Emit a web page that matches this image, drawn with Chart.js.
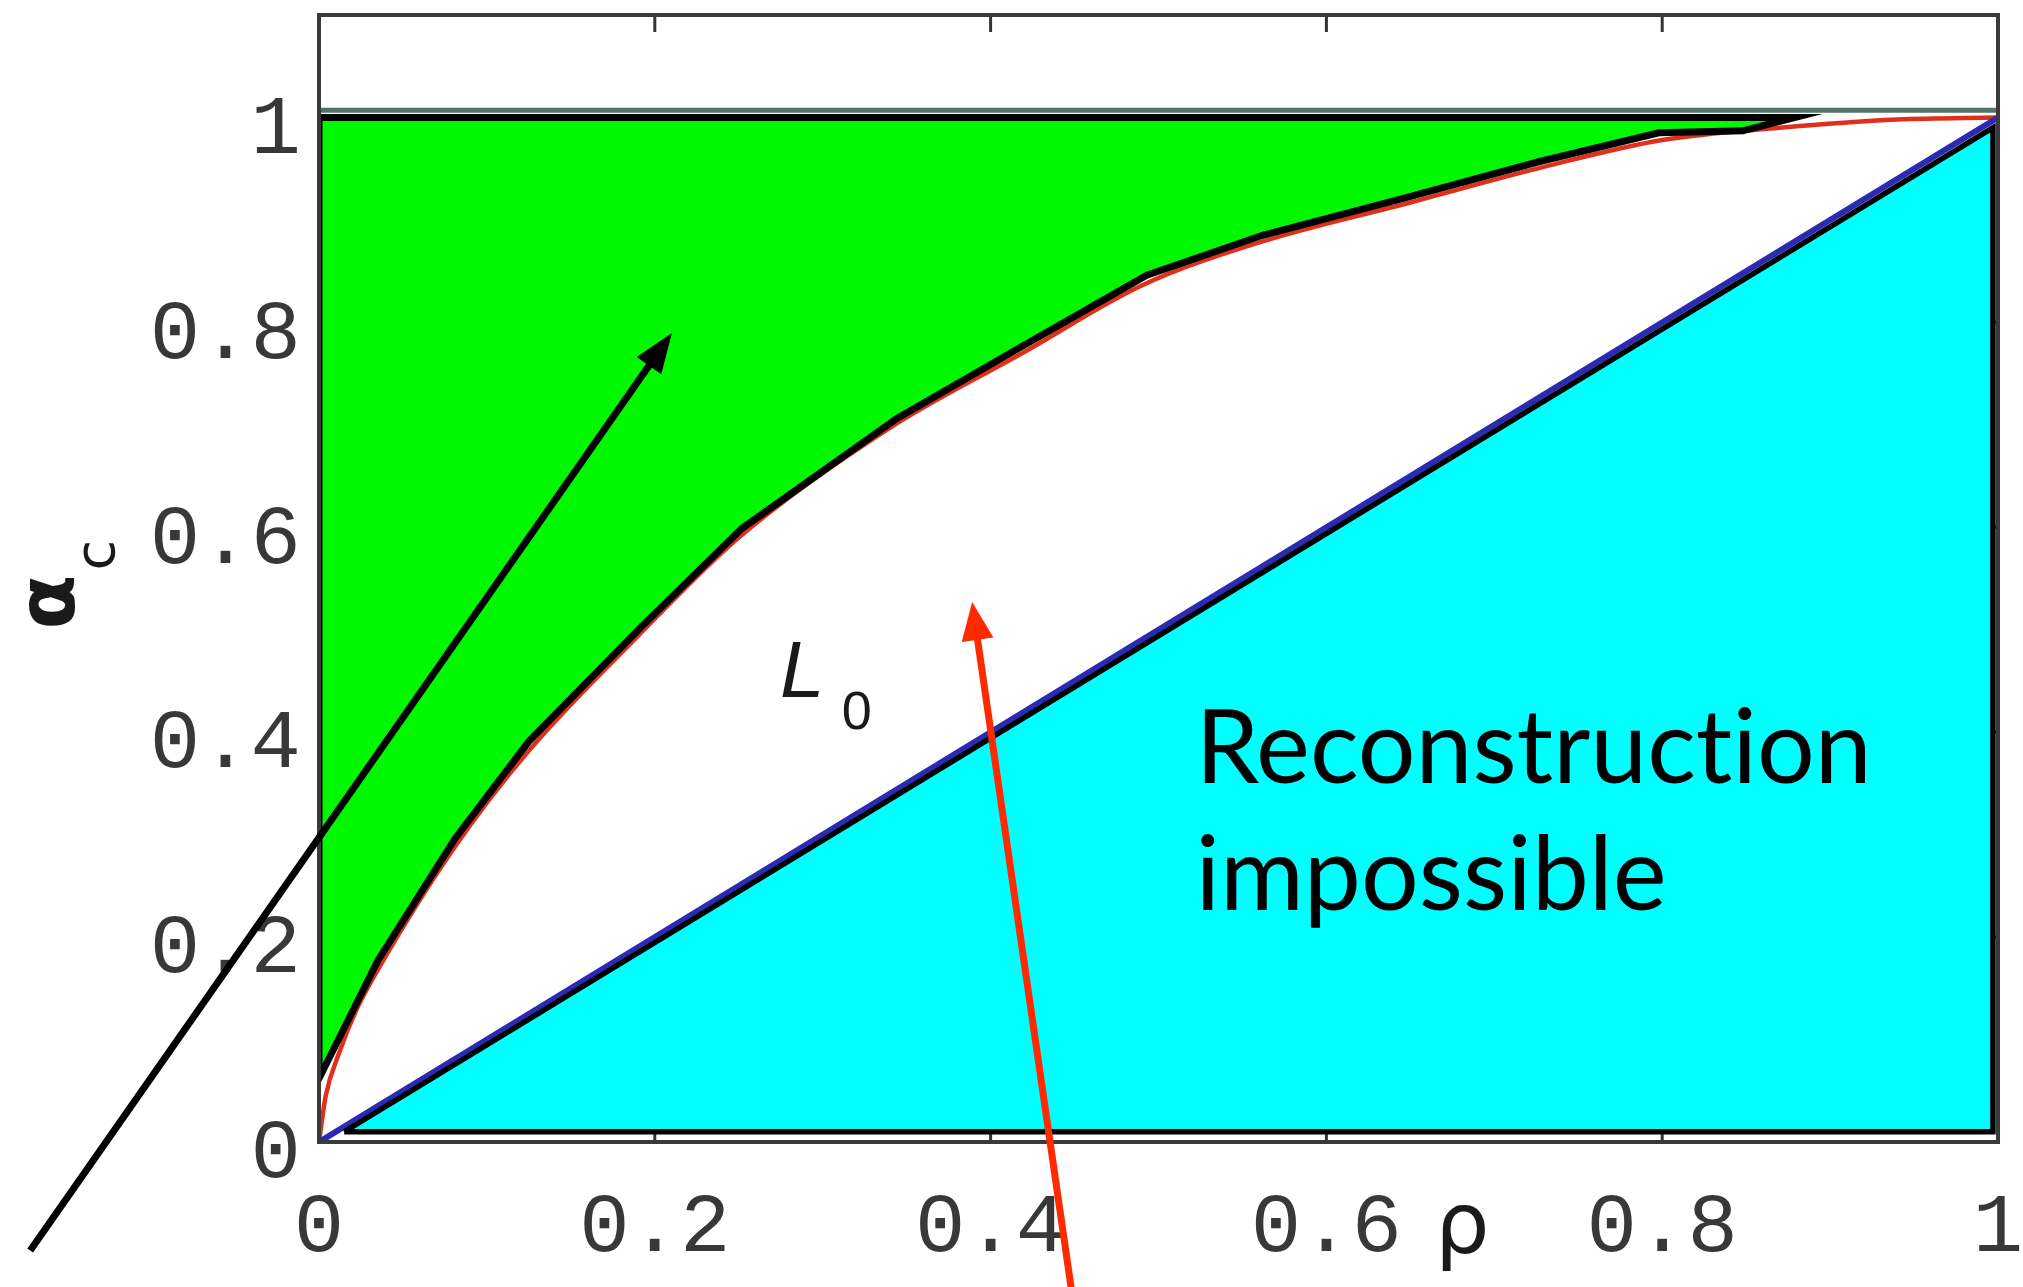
<!DOCTYPE html>
<html>
<head>
<meta charset="utf-8">
<script src="https://cdn.jsdelivr.net/npm/chart.js@4.4.0/dist/chart.umd.min.js"></script>
<style>
html,body{margin:0;padding:0;background:#ffffff;overflow:hidden}
#wrap{width:2023px;height:1287px;position:relative}
</style>
</head>
<body>
<div id="wrap"><canvas id="c" width="2023" height="1287"></canvas></div>
<script>
// ---- axis ticks ----
const xTickValues = [0, 0.2, 0.4, 0.6, 0.8, 1];
const xTickLabels = ['0', '0.2', '0.4', '0.6', '0.8', '1'];
const yTickValues = [0, 0.2, 0.4, 0.6, 0.8, 1];
const yTickLabels = ['0', '0.2', '0.4', '0.6', '0.8', '1'];

// ---- black (empirical) boundary of the green region ----
const blackRho   = [0, 0.035, 0.081, 0.125, 0.192, 0.252, 0.344, 0.417, 0.493, 0.562, 0.648, 0.727, 0.798, 0.848, 0.879];
const blackAlpha = [0.062, 0.177, 0.296, 0.391, 0.503, 0.599, 0.706, 0.775, 0.846, 0.885, 0.922, 0.957, 0.985, 0.987, 1.0];

// ---- red L0 curve ----
const redRho   = [0, 0.004, 0.012, 0.022, 0.035, 0.08, 0.125, 0.19, 0.25, 0.34, 0.42, 0.49, 0.56, 0.65, 0.73, 0.80, 0.87, 0.94, 1];
const redAlpha = [0, 0.045, 0.087, 0.128, 0.168, 0.286, 0.382, 0.494, 0.59, 0.697, 0.771, 0.836, 0.878, 0.917, 0.952, 0.978, 0.99, 0.998, 1];

// ---- blue diagonal alpha = rho ----
const diagRho   = [0, 1];
const diagAlpha = [0, 1];

// ---- cyan "reconstruction impossible" triangle ----
const cyanRho   = [0.015, 0.997, 0.997, 0.015];
const cyanAlpha = [0.01, 0.99, 0.01, 0.01];

// ---- upper limit line ----
const topRho   = [0, 1];
const topAlpha = [1.007, 1.007];

// ---- annotation arrows (data units: start, tip) ----
const blackArrowRho   = [-0.172, 0.2102];
const blackArrowAlpha = [-0.106, 0.7897];
const redArrowRho     = [0.449, 0.389];
const redArrowAlpha   = [-0.154, 0.527];

const pts = (xs, ys) => xs.map((x, i) => ({x: x, y: ys[i]}));

// green polygon: top edge, then down along the black curve, then up the left edge
const greenPts = [{x: 0, y: 1.0}, {x: blackRho[blackRho.length - 1], y: 1.0}]
  .concat(pts(blackRho, blackAlpha).reverse())
  .concat([{x: 0, y: 1.0}]);

const frameAndTicks = {
  id: 'frameAndTicks',
  beforeDatasetsDraw(chart) {
    const {ctx, chartArea: a, scales: {x, y}} = chart;
    ctx.save();
    ctx.strokeStyle = '#333';
    ctx.lineWidth = 3;
    const L = 17;
    xTickValues.forEach(v => {
      const px = x.getPixelForValue(v);
      ctx.beginPath(); ctx.moveTo(px, a.top); ctx.lineTo(px, a.top + L); ctx.stroke();
      ctx.beginPath(); ctx.moveTo(px, a.bottom); ctx.lineTo(px, a.bottom - L); ctx.stroke();
    });
    yTickValues.forEach(v => {
      const py = y.getPixelForValue(v);
      ctx.beginPath(); ctx.moveTo(a.left, py); ctx.lineTo(a.left + L, py); ctx.stroke();
      ctx.beginPath(); ctx.moveTo(a.right, py); ctx.lineTo(a.right - L, py); ctx.stroke();
    });
    ctx.restore();
  },
  afterDatasetsDraw(chart) {
    const {ctx, chartArea: a} = chart;
    ctx.save();
    ctx.strokeStyle = '#3a3a3a';
    ctx.lineWidth = 4;
    ctx.strokeRect(a.left, a.top, a.right - a.left, a.bottom - a.top);
    ctx.restore();
  }
};

function drawArrow(ctx, x1, y1, x2, y2, color, lw, headLen, headW) {
  const ang = Math.atan2(y2 - y1, x2 - x1);
  const bx = x2 - headLen * Math.cos(ang), by = y2 - headLen * Math.sin(ang);
  ctx.save();
  ctx.strokeStyle = color; ctx.fillStyle = color; ctx.lineWidth = lw;
  ctx.beginPath(); ctx.moveTo(x1, y1); ctx.lineTo(bx + 2 * Math.cos(ang), by + 2 * Math.sin(ang)); ctx.stroke();
  ctx.beginPath();
  ctx.moveTo(x2, y2);
  ctx.lineTo(bx + headW / 2 * Math.sin(ang), by - headW / 2 * Math.cos(ang));
  ctx.lineTo(bx - headW / 2 * Math.sin(ang), by + headW / 2 * Math.cos(ang));
  ctx.closePath(); ctx.fill();
  ctx.restore();
}

// draws text piece by piece so that no ligatures are formed
function drawNoLig(ctx, parts, x, y) {
  let cx = x;
  parts.forEach(p => { ctx.fillText(p, cx, y); cx += ctx.measureText(p).width; });
}

const annotations = {
  id: 'annotations',
  afterDraw(chart) {
    const {ctx, chartArea: a, scales: {x, y}} = chart;
    ctx.save();
    // L0 label
    ctx.fillStyle = '#1a1a1a';
    ctx.textBaseline = 'alphabetic';
    ctx.textAlign = 'left';
    ctx.font = 'italic 80px "Liberation Sans"';
    ctx.fillText('L', x.getPixelForValue(0.2746), y.getPixelForValue(0.4344));
    ctx.font = '54px "Liberation Sans"';
    ctx.fillText('0', x.getPixelForValue(0.3113), y.getPixelForValue(0.403));
    // Reconstruction impossible
    ctx.fillStyle = '#000';
    ctx.font = '102px Lato';
    drawNoLig(ctx, ['Reconstruct', 'ion'], x.getPixelForValue(0.522), y.getPixelForValue(0.3504));
    ctx.fillText('impossible', x.getPixelForValue(0.522), y.getPixelForValue(0.2265));
    // x-axis title rho
    ctx.fillStyle = '#1a1a1a';
    ctx.textAlign = 'center';
    ctx.font = '86px "DejaVu Sans"';
    ctx.fillText('ρ', x.getPixelForValue(0.681), a.bottom + 111);
    // y-axis title alpha_c (rotated)
    ctx.translate(a.left - 245, y.getPixelForValue(0.527));
    ctx.rotate(-Math.PI / 2);
    ctx.font = 'bold 80px "DejaVu Sans"';
    ctx.fillText('α', 0, 0);
    ctx.font = '56px "DejaVu Sans"';
    ctx.fillText('c', 47, 40);
    ctx.restore();
    // arrows
    drawArrow(ctx,
      x.getPixelForValue(blackArrowRho[0]), y.getPixelForValue(blackArrowAlpha[0]),
      x.getPixelForValue(blackArrowRho[1]), y.getPixelForValue(blackArrowAlpha[1]),
      '#000', 7, 40, 30);
    drawArrow(ctx,
      x.getPixelForValue(redArrowRho[0]), y.getPixelForValue(redArrowAlpha[0]),
      x.getPixelForValue(redArrowRho[1]), y.getPixelForValue(redArrowAlpha[1]),
      '#ff2a00', 7, 38, 32);
  }
};

const tickFont = {family: '"Liberation Mono"', size: 84};

new Chart(document.getElementById('c'), {
  type: 'scatter',
  data: {
    datasets: [
      {
        label: 'green', data: greenPts, showLine: true, tension: 0, pointRadius: 0,
        borderColor: '#000', borderWidth: 7, borderJoinStyle: 'miter',
        backgroundColor: '#00f800', fill: 'shape', order: 1
      },
      {
        label: 'cyan', data: pts(cyanRho, cyanAlpha), showLine: true, tension: 0, pointRadius: 0,
        borderColor: '#000', borderWidth: 5.5, borderJoinStyle: 'miter',
        backgroundColor: '#00ffff', fill: 'shape', order: 2
      },
      {
        label: 'diag', data: pts(diagRho, diagAlpha), showLine: true, pointRadius: 0,
        borderColor: '#2a2ab4', borderWidth: 6, fill: false, order: 3
      },
      {
        label: 'L0', data: pts(redRho, redAlpha), showLine: true, pointRadius: 0,
        cubicInterpolationMode: 'monotone',
        borderColor: '#e0301c', borderWidth: 4.5, fill: false, order: 4
      },
      {
        label: 'top', data: pts(topRho, topAlpha), showLine: true, pointRadius: 0,
        borderColor: '#4f7466', borderWidth: 5, fill: false, order: 5
      }
    ]
  },
  options: {
    responsive: false,
    animation: false,
    devicePixelRatio: 1,
    layout: {padding: {left: 0, right: 25, top: 15, bottom: 0}},
    plugins: {legend: {display: false}, tooltip: {enabled: false}},
    scales: {
      x: {
        type: 'linear', min: 0, max: 1,
        afterBuildTicks: s => { s.ticks = xTickValues.map(v => ({value: v})); },
        afterFit: s => { s.height = 145; s.paddingLeft = 0; s.paddingRight = 0; },
        grid: {display: false, drawTicks: false},
        border: {display: false},
        ticks: {
          padding: 36, font: tickFont, color: '#383838', maxRotation: 0, autoSkip: false,
          callback: (v, i) => xTickLabels[i]
        }
      },
      y: {
        type: 'linear', min: 0, max: 1.1,
        afterBuildTicks: s => { s.ticks = yTickValues.map(v => ({value: v})); },
        afterFit: s => { s.width = 319; s.paddingTop = 0; s.paddingBottom = 0; },
        grid: {display: false, drawTicks: false},
        border: {display: false},
        ticks: {
          padding: 18, labelOffset: 13, font: tickFont, color: '#383838', autoSkip: false,
          callback: (v, i) => yTickLabels[i]
        }
      }
    }
  },
  plugins: [frameAndTicks, annotations]
});
</script>
</body>
</html>
